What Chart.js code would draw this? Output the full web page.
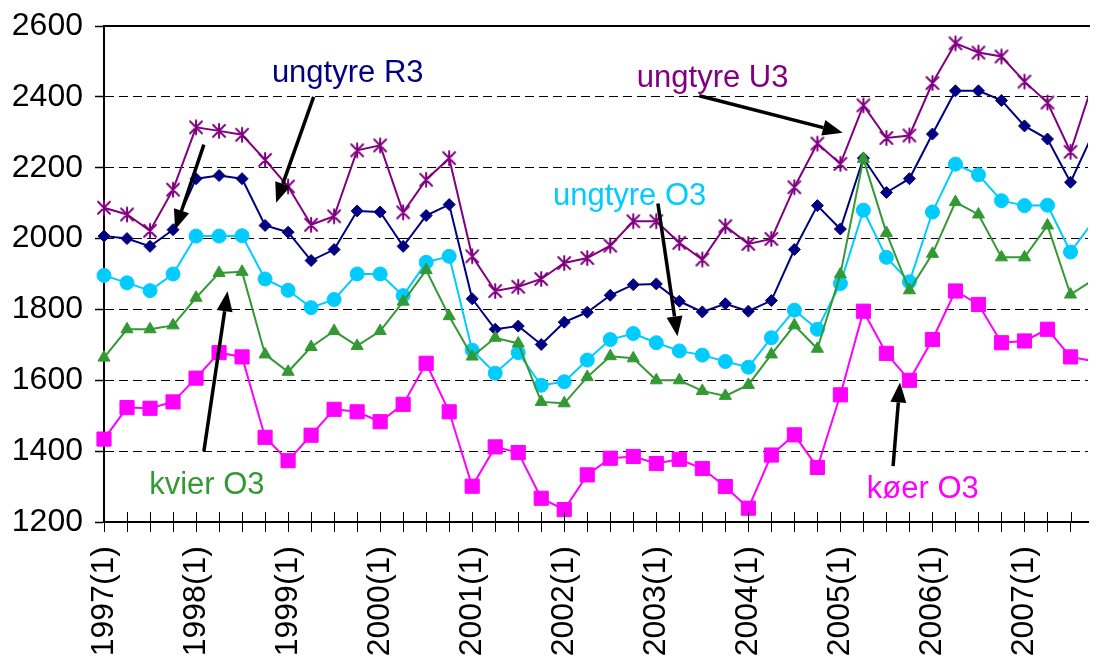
<!DOCTYPE html>
<html><head><meta charset="utf-8">
<script src="https://cdn.jsdelivr.net/npm/chart.js@4"></script>
<style>html,body{margin:0;padding:0;background:#fff;overflow:hidden}#wrap{width:1099px;height:657px;position:relative}</style>
</head><body><div id="wrap"><canvas id="c" width="1099" height="657"></canvas></div>
<script>
const categories = ["1997(1)","1997(2)","1997(3)","1997(4)","1998(1)","1998(2)","1998(3)","1998(4)","1999(1)","1999(2)","1999(3)","1999(4)","2000(1)","2000(2)","2000(3)","2000(4)","2001(1)","2001(2)","2001(3)","2001(4)","2002(1)","2002(2)","2002(3)","2002(4)","2003(1)","2003(2)","2003(3)","2003(4)","2004(1)","2004(2)","2004(3)","2004(4)","2005(1)","2005(2)","2005(3)","2005(4)","2006(1)","2006(2)","2006(3)","2006(4)","2007(1)","2007(2)","2007(3)","2007(4)"];
const ungtyreU3 = [2087,2068,2022,2138,2314,2304,2293,2222,2147,2039,2063,2249,2263,2074,2166,2227,1950,1852,1864,1886,1931,1945,1980,2049,2049,1988,1941,2035,1985,1999,2145,2268,2211,2376,2284,2291,2439,2551,2525,2514,2443,2384,2245,2445];
const ungtyreR3 = [2007,2000,1978,2025,2169,2178,2169,2037,2018,1938,1969,2078,2075,1978,2065,2096,1830,1744,1753,1701,1764,1792,1840,1870,1872,1823,1793,1816,1795,1825,1969,2093,2027,2227,2130,2169,2295,2417,2417,2390,2318,2281,2159,2300];
const ungtyreO3 = [1896,1875,1853,1900,2007,2007,2008,1886,1854,1805,1828,1900,1900,1839,1933,1950,1685,1620,1678,1586,1596,1657,1715,1732,1706,1683,1671,1653,1637,1720,1798,1744,1873,2080,1947,1878,2075,2210,2180,2107,2093,2094,1962,2050];
const kvierO3 = [1664,1744,1744,1755,1833,1903,1906,1673,1624,1694,1739,1697,1739,1822,1911,1781,1667,1720,1704,1539,1535,1609,1668,1662,1600,1600,1570,1556,1587,1673,1755,1689,1899,2225,2016,1854,1957,2103,2068,1947,1947,2037,1842,1884];
const koerO3 = [1434,1523,1521,1539,1606,1678,1666,1439,1373,1445,1518,1511,1483,1532,1648,1511,1301,1412,1396,1267,1235,1333,1380,1385,1365,1377,1351,1300,1239,1389,1446,1354,1559,1795,1676,1600,1715,1852,1814,1706,1711,1744,1666,1654];
const yTicks = [1200,1400,1600,1800,2000,2200,2400,2600];
const seriesNames = ["ungtyre U3","ungtyre R3","ungtyre O3","kvier O3","køer O3"];

// annotations in data units: [text, x(index), y(value), color]
const labelTexts = [
  ["ungtyre R3", 10.59, 2442, "#000080"],
  ["ungtyre U3", 26.45, 2428, "#800080"],
  ["ungtyre O3", 22.84, 2096, "#00CCFF"],
  ["kvier O3", 4.47, 1279, "#339933"],
  ["køer O3", 35.58, 1268, "#FF00FF"]
];
// arrows: [x1,y1,x2(tip),y2(tip)] in data units
const arrows = [
  [4.34, 2265, 3.09, 2025],
  [9.11, 2400, 7.48, 2101],
  [25.87, 2403, 32.10, 2299],
  [24.07, 2099, 24.92, 1724],
  [4.34, 1400, 5.37, 1851],
  [34.29, 1358, 34.59, 1594]
];

const FONT = '"Liberation Sans", Arial, sans-serif';

function starImg(color, r) {
  const c = document.createElement('canvas');
  const s = 2 * r + 4; c.width = s; c.height = s;
  const g = c.getContext('2d');
  const m = s / 2, d = r * 0.85;
  g.strokeStyle = color; g.lineWidth = 2; g.lineCap = 'round';
  g.beginPath();
  g.moveTo(m - d, m - d); g.lineTo(m + d, m + d);
  g.moveTo(m + d, m - d); g.lineTo(m - d, m + d);
  g.moveTo(m, m - r); g.lineTo(m, m + r);
  g.stroke();
  return c;
}

function toXY(arr) { return arr.map((v, i) => ({x: i, y: v})); }

const clipBox = {left: 20, top: 20, right: 0, bottom: 20};

const overlay = {
  id: 'overlay',
  afterDraw(chart) {
    const ctx = chart.ctx, xs = chart.scales.x, ys = chart.scales.y, a = chart.chartArea;
    ctx.save();
    ctx.strokeStyle = '#000'; ctx.lineWidth = 2;
    ctx.beginPath(); ctx.moveTo(a.left - 1, a.top); ctx.lineTo(a.right + 2, a.top); ctx.stroke();
    ctx.lineWidth = 1;
    ctx.beginPath();
    xs.ticks.forEach(t => { const px = Math.round(xs.getPixelForValue(t.value)) + 0.5; ctx.moveTo(px, a.bottom - 10); ctx.lineTo(px, a.bottom); });
    ctx.stroke();
    ctx.strokeStyle = '#000'; ctx.fillStyle = '#000';
    arrows.forEach(ar => {
      const x1 = xs.getPixelForValue(ar[0]), y1 = ys.getPixelForValue(ar[1]);
      const x2 = xs.getPixelForValue(ar[2]), y2 = ys.getPixelForValue(ar[3]);
      const ang = Math.atan2(y2 - y1, x2 - x1);
      const hl = 20, hw = 8;
      const bx = x2 - hl * Math.cos(ang), by = y2 - hl * Math.sin(ang);
      ctx.lineWidth = 3.5;
      ctx.beginPath(); ctx.moveTo(x1, y1); ctx.lineTo(bx, by); ctx.stroke();
      ctx.beginPath();
      ctx.moveTo(x2, y2);
      ctx.lineTo(bx + hw * Math.sin(ang), by - hw * Math.cos(ang));
      ctx.lineTo(bx - hw * Math.sin(ang), by + hw * Math.cos(ang));
      ctx.closePath(); ctx.fill();
    });
    ctx.font = '31px ' + FONT;
    ctx.textAlign = 'center'; ctx.textBaseline = 'alphabetic';
    labelTexts.forEach(t => {
      ctx.fillStyle = t[3];
      ctx.fillText(t[0], xs.getPixelForValue(t[1]), ys.getPixelForValue(t[2]));
    });
    ctx.restore();
  }
};

function ds(label, data, color, style, radius) {
  const last = data.length - 1;
  const r = c => (c.dataIndex === last ? 0 : radius);
  return {
    label, data: toXY(data), borderColor: color, backgroundColor: color,
    borderWidth: 2, pointStyle: style, pointRadius: r, pointHoverRadius: r,
    pointBorderWidth: 1, pointBackgroundColor: color, pointBorderColor: color,
    tension: 0, fill: false, clip: clipBox
  };
}

new Chart(document.getElementById('c'), {
  type: 'line',
  data: {
    datasets: [
      ds(seriesNames[4], koerO3, '#FF00FF', 'rect', 10),
      ds(seriesNames[3], kvierO3, '#339933', 'triangle', 7),
      ds(seriesNames[2], ungtyreO3, '#00CCFF', 'circle', 7),
      ds(seriesNames[1], ungtyreR3, '#000080', 'rectRot', 6),
      ds(seriesNames[0], ungtyreU3, '#800080', starImg('#800080', 7), 7)
    ]
  },
  options: {
    responsive: false, animation: false, devicePixelRatio: 1,
    layout: {padding: {top: 26, right: 0, left: 0, bottom: 0}},
    plugins: {legend: {display: false}, tooltip: {enabled: false}},
    scales: {
      x: {
        type: 'linear', min: 0, max: 42.76,
        afterBuildTicks: s => { s.ticks = categories.slice(0, 43).map((c, i) => ({value: i})); },
        afterFit: s => { s.height = 135; s.paddingLeft = 0; s.paddingRight = 0; },
        ticks: {
          autoSkip: false, includeBounds: false, minRotation: 90, maxRotation: 90,
          font: {family: FONT, size: 32}, color: '#000', padding: 14,
          callback: v => (Number.isInteger(v) && v % 4 === 0) ? categories[v] : ''
        },
        grid: {display: true, drawOnChartArea: false, drawTicks: true, tickLength: 10, color: '#000', tickColor: '#000', tickWidth: 1},
        border: {display: true, color: '#000', width: 2}
      },
      y: {
        min: 1200, max: 2600,
        afterBuildTicks: s => { s.ticks = yTicks.map(v => ({value: v})); },
        afterFit: s => { s.width = 104; s.paddingTop = 0; s.paddingBottom = 0; },
        ticks: {font: {family: FONT, size: 32}, color: '#000', padding: 12, callback: v => String(v)},
        grid: {
          color: c => (c.tick && (c.tick.value === 1200 || c.tick.value === 2600)) ? 'rgba(0,0,0,0)' : '#000',
          lineWidth: 1, tickLength: 9, tickColor: '#000', tickWidth: 1.5
        },
        border: {display: true, color: '#000', width: 2, dash: [9, 5]}
      }
    }
  },
  plugins: [overlay]
});
</script></body></html>
